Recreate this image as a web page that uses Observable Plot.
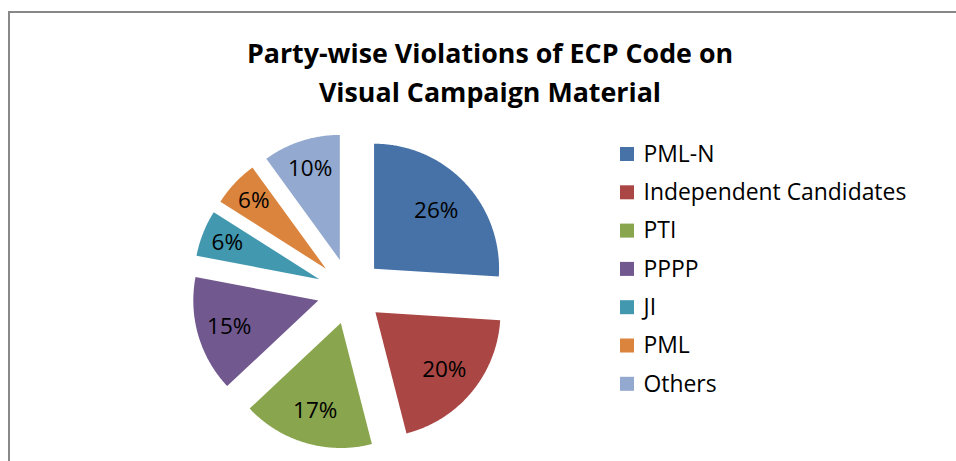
<!DOCTYPE html>
<html>
<head>
<meta charset="utf-8">
<script src="https://cdn.jsdelivr.net/npm/d3@7"></script>
<script src="https://cdn.jsdelivr.net/npm/@observablehq/plot@0.6"></script>
<style>
  html, body { margin: 0; padding: 0; background: #fff; overflow: hidden; }
  #wrap { position: relative; width: 956px; height: 461px; }
  #border { position: absolute; left: 8px; top: 11px; width: 1000px; height: 500px;
            border-left: 2px solid #888; border-top: 2px solid #888; box-sizing: border-box; }
  #chart { position: absolute; left: 0; top: 0; }
</style>
</head>
<body>
<div id="wrap"><div id="border"></div><div id="chart"></div></div>
<script>
// ---- data ----
const titleLines = ["Party-wise Violations of ECP Code on", "Visual Campaign Material"];
const parties = ["PML-N", "Independent Candidates", "PTI", "PPPP", "JI", "PML", "Others"];
const shares = [26, 20, 17, 15, 6, 6, 10];
const colors = ["#4672A8", "#AA4643", "#89A54E", "#71588F", "#4198AF", "#DB843D", "#93A9CF"];

// ---- layout ----
const W = 956, H = 461;
const cx = 349.5, cy = 290.8, R = 125, explode = 33;
const font = "'Open Sans', Lato, sans-serif";

const arcs = d3.pie().sort(null).value(d => d)(shares);
const polys = [];
const labels = [];
arcs.forEach((a, i) => {
  const mid = (a.startAngle + a.endAngle) / 2;
  const ox = cx + explode * Math.sin(mid), oy = cy - explode * Math.cos(mid);
  polys.push({party: parties[i], x: ox, y: oy});
  const n = Math.max(2, Math.ceil((a.endAngle - a.startAngle) / (Math.PI / 360)));
  for (let k = 0; k <= n; k++) {
    const t = a.startAngle + (a.endAngle - a.startAngle) * k / n;
    polys.push({party: parties[i], x: ox + R * Math.sin(t), y: oy - R * Math.cos(t)});
  }
  polys.push({party: parties[i], x: ox, y: oy});
  // narrower slices push their label further out (best-fit style placement)
  const lr = 103 - 0.68 * shares[i];
  labels.push({x: ox + lr * Math.sin(mid), y: oy - lr * Math.cos(mid), text: shares[i] + "%"});
});

const legX = 620, legY0 = 154, legStep = 38.3, legSq = 14;

const chart = Plot.plot({
  width: W, height: H,
  margin: 0,
  x: {domain: [0, W], axis: null},
  y: {domain: [H, 0], axis: null},
  color: {domain: parties, range: colors},
  style: {background: "transparent", overflow: "visible"},
  marks: [
    Plot.line(polys, {x: "x", y: "y", z: "party", fill: "party", stroke: "none", curve: "linear"}),
    Plot.text(labels, {x: "x", y: "y", text: "text", fontSize: 22.5, fontFamily: font, fill: "#000"}),
    Plot.text(titleLines, {x: 489.5, y: (d, i) => 53.5 + i * 39.5, text: d => d, fontSize: 26.8,
      fontWeight: "bold", fontFamily: font, fill: "#000"}),
    Plot.rect(parties, {x1: legX, x2: legX + legSq, y1: (d, i) => legY0 + i * legStep - legSq / 2,
      y2: (d, i) => legY0 + i * legStep + legSq / 2, fill: d => d}),
    Plot.text(parties, {x: legX + 23, y: (d, i) => legY0 + i * legStep, text: d => d, textAnchor: "start",
      fontSize: 22.9, fontFamily: font, fill: "#000"})
  ]
});
document.getElementById("chart").appendChild(chart);
</script>
</body>
</html>
